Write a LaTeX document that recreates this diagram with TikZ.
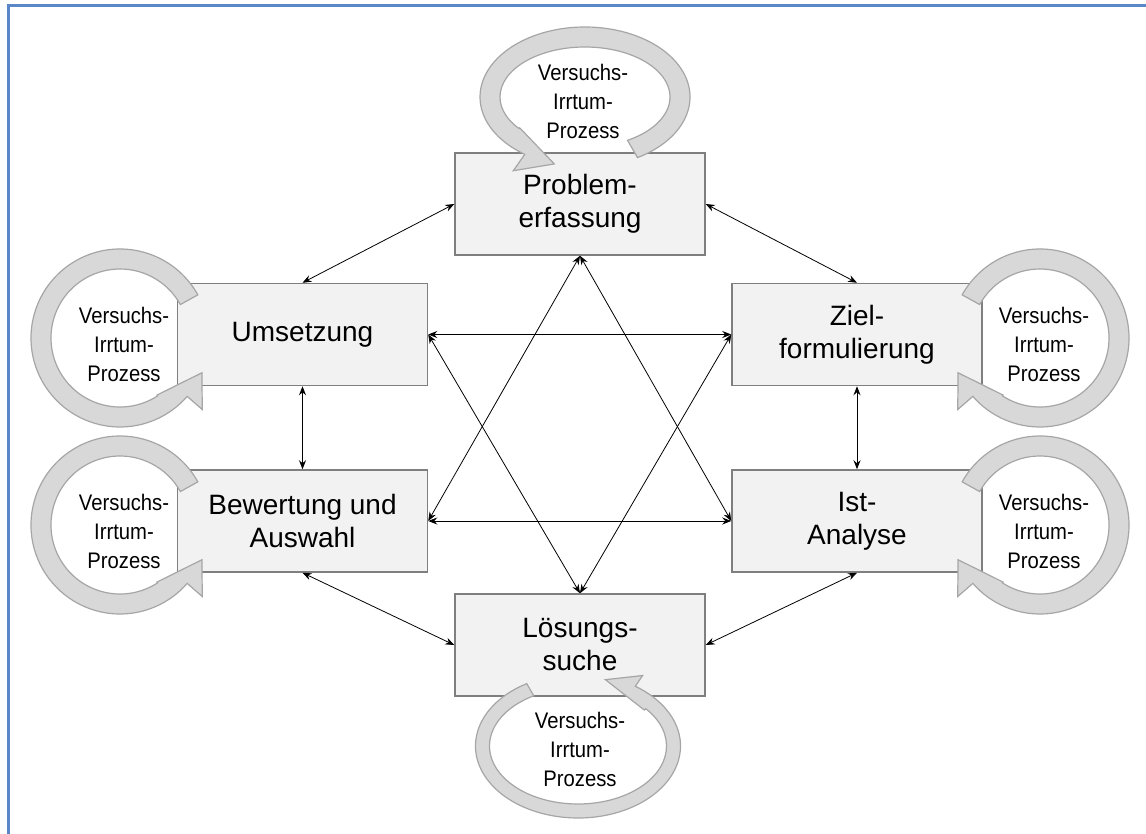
\documentclass[tikz,border=0pt]{standalone}
\usepackage{fontspec}
\setmainfont{Liberation Sans}
\newfontfamily\narrowsans{Liberation Sans}[FakeStretch=0.9]
\usetikzlibrary{arrows.meta}

\definecolor{boxfill}{HTML}{F2F2F2}
\definecolor{boxline}{HTML}{7F7F7F}
\definecolor{ringfill}{HTML}{D8D8D8}
\definecolor{ringline}{HTML}{A6A6A6}
\definecolor{frameblue}{HTML}{5A87C8}

% Ring arrow around an elliptical path.
% #1 centre, #2/#3 mid radii, #4 half band width, #5 start angle,
% #6 tip angle (the ring runs from #5 down to #6),
% #7/#8/#9 radial offsets of the tip, outer base and inner base of the head.
\newcommand\ringarrow[9]{%
  \path[ring, shift={#1}]
    ({(#2+#4)*cos(#5)},{(#3+#4)*sin(#5)})
    arc[start angle=#5, end angle=#6+18, x radius=#2+#4, y radius=#3+#4]
    -- ({(#2+#8)*cos(#6+18)},{(#3+#8)*sin(#6+18)})
    -- ({(#2+#7)*cos(#6)},{(#3+#7)*sin(#6)})
    -- ({(#2+#9)*cos(#6+34)},{(#3+#9)*sin(#6+34)})
    -- ({(#2-#4)*cos(#6+34)},{(#3-#4)*sin(#6+34)})
    arc[start angle=#6+34, end angle=#5, x radius=#2-#4, y radius=#3-#4]
    -- cycle;}

\begin{document}
\begin{tikzpicture}[x=1pt, y=-1pt,
  stage/.style={draw=boxline, fill=boxfill, line width=1.5pt,
    minimum width=250pt, minimum height=102pt, inner sep=0pt,
    align=center, font=\fontsize{28}{33}\selectfont},
  looptext/.style={align=center, inner sep=0pt,
    font=\narrowsans\fontsize{22.5}{29}\selectfont},
  ring/.style={fill=ringfill, draw=ringline, line width=1.2pt, line join=miter},
  conn/.style={draw=black, line width=0.8pt,
    {Stealth[length=9pt,width=7pt,inset=3pt]}-{Stealth[length=9pt,width=7pt,inset=3pt]}}]

\useasboundingbox (0,0) rectangle (1146,834);
\fill[white] (0,0) rectangle (1146,834);

% frame
\draw[frameblue, line width=3pt] (8.5,834) -- (8.5,5.5) -- (1146,5.5);

% stages
\node[stage] (P) at (580,204) {Problem-\\erfassung};
\node[stage] (U) at (302.5,334.5) {Umsetzung};
\node[stage] (Z) at (857,334.5) {Ziel-\\formulierung};
\node[stage] (B) at (302.5,521) {Bewertung und\\Auswahl};
\node[stage] (I) at (857,521) {Ist-\\Analyse};
\node[stage] (L) at (580,645) {Lösungs-\\suche};

% connections
\draw[conn] (U.north) -- (P.west);
\draw[conn] (P.east) -- (Z.north);
\draw[conn] (U.east) -- (Z.west);
\draw[conn] (U.south) -- (B.north);
\draw[conn] (Z.south) -- (I.north);
\draw[conn] (B.east) -- (I.west);
\draw[conn] (B.south) -- (L.west);
\draw[conn] (I.south) -- (L.east);
\draw[conn] (P.south) -- (B.east);
\draw[conn] (P.south) -- (I.west);
\draw[conn] (L.north) -- (U.east);
\draw[conn] (L.north) -- (Z.west);

% trial-and-error loops
\ringarrow{(585,97)}{95}{60}{10}{60}{-253}{10}{30}{-11}
\ringarrow{(578,746)}{95.5}{65}{7}{-120}{-434}{4}{20}{-9}
\ringarrow{(120,338)}{79}{79}{10}{-29}{-337}{10}{30}{-11}
\ringarrow{(120,525)}{79}{79}{10}{-29}{-337}{10}{30}{-11}
\begin{scope}[xshift=1160pt, xscale=-1]
  \ringarrow{(120,338)}{79}{79}{10}{-29}{-337}{10}{30}{-11}
  \ringarrow{(120,525)}{79}{79}{10}{-29}{-337}{10}{30}{-11}
\end{scope}

\node[looptext] (tP) at (583,101) {Versuchs-\\Irrtum-\\Prozess};
\node[looptext] (tL) at (580,749) {Versuchs-\\Irrtum-\\Prozess};
\node[looptext] (tU) at (124,344) {Versuchs-\\Irrtum-\\Prozess};
\node[looptext] (tB) at (124,531) {Versuchs-\\Irrtum-\\Prozess};
\node[looptext] (tZ) at (1044,344) {Versuchs-\\Irrtum-\\Prozess};
\node[looptext] (tI) at (1044,531) {Versuchs-\\Irrtum-\\Prozess};
\end{tikzpicture}
\end{document}
